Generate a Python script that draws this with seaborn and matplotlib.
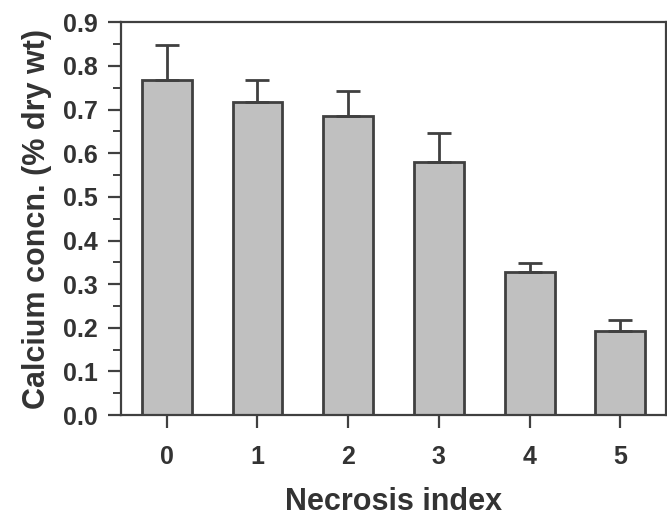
import numpy as np
import pandas as pd
import matplotlib
matplotlib.use("Agg")
import matplotlib.pyplot as plt
import seaborn as sns
from matplotlib.ticker import MultipleLocator

# --- DATA ---
necrosis_index = ["0", "1", "2", "3", "4", "5"]
calcium_mean = [0.767, 0.717, 0.685, 0.579, 0.328, 0.193]
calcium_err = [0.080, 0.050, 0.057, 0.067, 0.020, 0.025]

sns.set_theme(style="ticks")
plt.rcParams["font.family"] = ["Liberation Sans", "DejaVu Sans"]
plt.rcParams["font.weight"] = "bold"

df = pd.DataFrame({"index": necrosis_index, "ca": calcium_mean})

edge = "#404040"
text_c = "#333333"

fig = plt.figure(figsize=(6.67, 5.17), dpi=100)
ax = fig.add_axes([0.182, 0.197, 0.816, 0.760])

sns.barplot(data=df, x="index", y="ca", color="#c0c0c0", saturation=1,
            width=0.55, edgecolor=edge, linewidth=2, ax=ax)

# one-sided error bars (upper only)
ax.errorbar(np.arange(len(calcium_mean)), calcium_mean,
            yerr=[np.zeros(len(calcium_err)), calcium_err],
            fmt="none", ecolor=edge, elinewidth=2, capsize=8.5, capthick=2,
            zorder=1)

ax.set_xlim(-0.5, 5.5)
ax.set_ylim(0, 0.9)
ax.yaxis.set_major_locator(MultipleLocator(0.1))
ax.yaxis.set_minor_locator(MultipleLocator(0.05))
ax.yaxis.set_major_formatter(plt.FormatStrFormatter("%.1f"))

for s in ax.spines.values():
    s.set_color(edge)
    s.set_linewidth(1.6)

ax.tick_params(axis="both", which="major", length=9.5, width=1.6, color=edge,
               labelsize=18, labelcolor=text_c, pad=7.5)
ax.tick_params(axis="y", which="minor", length=6, width=1.4, color=edge)
ax.tick_params(axis="x", pad=12)
for lbl in ax.get_xticklabels() + ax.get_yticklabels():
    lbl.set_fontweight("bold")

ax.set_xlabel("Necrosis index", fontsize=22, fontweight="bold", color=text_c, labelpad=13)
ax.set_ylabel("Calcium concn. (% dry wt)", fontsize=22, fontweight="bold", color=text_c, labelpad=8)

fig.savefig("out.png", dpi=100)
